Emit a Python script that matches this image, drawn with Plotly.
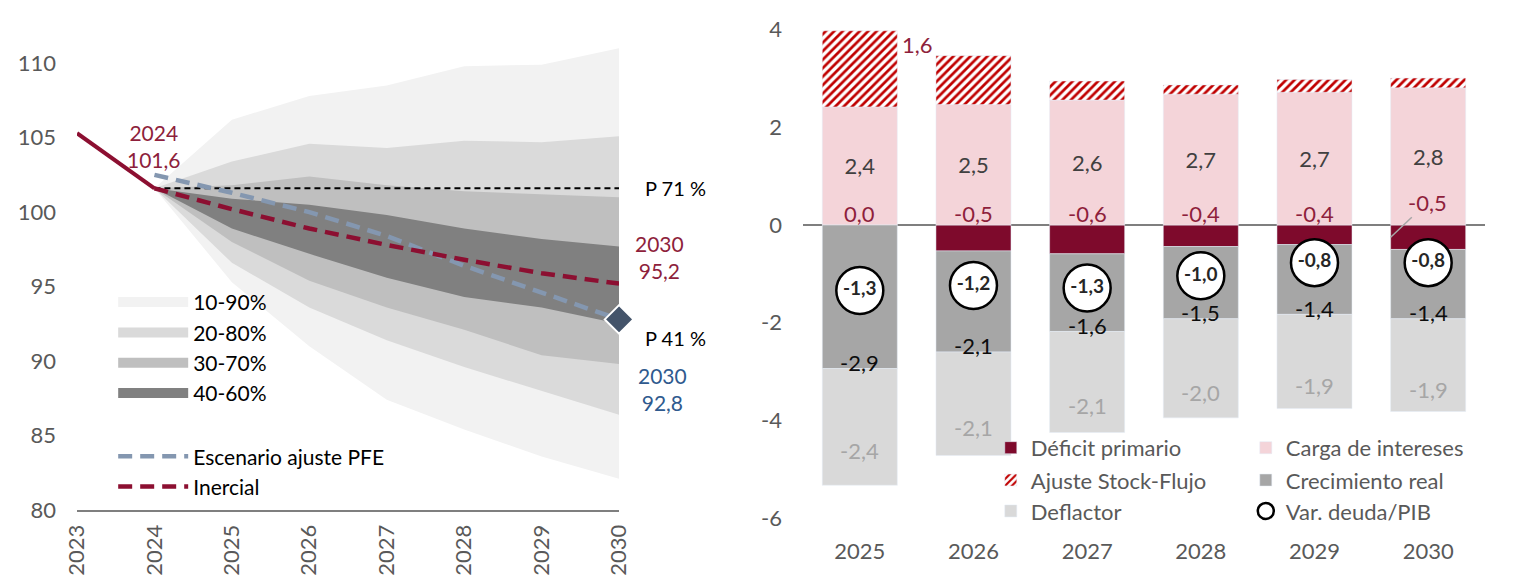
import plotly.graph_objects as go

# ---------------- Left panel data (deuda/PIB, fan chart) ----------------
years_hist = [2023, 2024]
debt_hist = [105.3, 101.6]
years_fan = [2024, 2025, 2026, 2027, 2028, 2029, 2030]
p10 = [101.6, 95.3, 91.0, 87.4, 85.4, 83.6, 82.1]
p20 = [101.6, 96.6, 93.6, 91.4, 89.6, 88.0, 86.4]
p30 = [101.6, 98.0, 95.4, 93.6, 92.1, 90.4, 89.8]
p40 = [101.6, 98.9, 97.2, 95.6, 94.3, 93.6, 92.5]
p60 = [101.6, 100.9, 100.5, 99.8, 98.9, 98.2, 97.7]
p70 = [101.6, 101.8, 102.4, 101.8, 101.4, 101.2, 101.0]
p80 = [101.6, 103.4, 104.6, 104.3, 104.8, 104.7, 105.1]
p90 = [101.6, 106.2, 107.8, 108.5, 109.8, 109.9, 111.0]
inercial = [101.6, 100.2, 98.9, 97.8, 96.8, 95.9, 95.2]
pfe = [102.5, 101.3, 100.0, 98.4, 96.4, 94.6, 92.8]
band_names = ["10-90%", "20-80%", "30-70%", "40-60%"]
prob_upper_label = "P 71 %"
prob_lower_label = "P 41 %"
left_xticks = [2023, 2024, 2025, 2026, 2027, 2028, 2029, 2030]
left_yticks = [80, 85, 90, 95, 100, 105, 110]

# ---------------- Right panel data (descomposición) ----------------
cats = ["2025", "2026", "2027", "2028", "2029", "2030"]
deficit = [0.0, -0.53, -0.59, -0.44, -0.40, -0.50]
carga = [2.42, 2.47, 2.56, 2.68, 2.72, 2.81]
stock_flujo = [1.56, 1.00, 0.39, 0.19, 0.26, 0.20]
crecimiento = [-2.94, -2.07, -1.59, -1.48, -1.43, -1.42]
deflactor = [-2.39, -2.12, -2.07, -2.03, -1.93, -1.90]
var_deuda = [-1.34, -1.24, -1.29, -1.04, -0.77, -0.77]
right_yticks = [-6, -4, -2, 0, 2, 4]

FONT = "Lato"
RED = "#8C0F31"
RED_TXT = "#8E1F3C"
BLUE_TXT = "#2F5A8E"
GREY_TXT = "#595959"


def fmt(v):
    return f"{v:.1f}".replace(".", ",")


fig = go.Figure()

# fan bands
band_lo = [p10, p20, p30, p40]
band_hi = [p90, p80, p70, p60]
band_cols = ["#F2F2F2", "#DADADA", "#BFBFBF", "#808080"]
for i, name in enumerate(band_names):
    fig.add_trace(go.Scatter(x=years_fan, y=band_lo[i], mode="lines", line=dict(width=0),
                             showlegend=False, hoverinfo="skip", xaxis="x", yaxis="y"))
    fig.add_trace(go.Scatter(x=years_fan, y=band_hi[i], mode="lines", line=dict(width=0),
                             fill="tonexty", fillcolor=band_cols[i], showlegend=False,
                             hoverinfo="skip", xaxis="x", yaxis="y"))
# legend swatches for bands
for i, name in enumerate(band_names):
    fig.add_trace(go.Scatter(x=[None], y=[None], mode="lines", name=name,
                             line=dict(color=band_cols[i], width=17),
                             legend="legend", legendgroup="bands", legendrank=i + 1,
                             xaxis="x", yaxis="y"))

# reference dotted line at 2024 level
fig.add_trace(go.Scatter(x=[years_fan[0], years_fan[-1]], y=[debt_hist[-1], debt_hist[-1]],
                         mode="lines", line=dict(color="black", width=2, dash="6px,4px"),
                         showlegend=False, hoverinfo="skip", xaxis="x", yaxis="y"))
# historical solid
fig.add_trace(go.Scatter(x=years_hist, y=debt_hist, mode="lines",
                         line=dict(color=RED, width=4), showlegend=False, xaxis="x", yaxis="y"))
# PFE
fig.add_trace(go.Scatter(x=years_fan, y=pfe, mode="lines",
                         line=dict(color="#8497B0", width=4.5, dash="14px,8px"),
                         name="Escenario ajuste PFE", legend="legend", legendgroup="lines",
                         legendrank=10, xaxis="x", yaxis="y"))
# Inercial
fig.add_trace(go.Scatter(x=years_fan, y=inercial, mode="lines",
                         line=dict(color=RED, width=4.5, dash="14px,8px"),
                         name="Inercial", legend="legend", legendgroup="lines",
                         legendrank=11, xaxis="x", yaxis="y"))
# diamond
fig.add_trace(go.Scatter(x=[years_fan[-1]], y=[pfe[-1]], mode="markers", cliponaxis=False,
                         marker=dict(symbol="diamond", size=22, color="#44546A",
                                     line=dict(color="white", width=2)),
                         showlegend=False, xaxis="x", yaxis="y"))

# ---------------- right panel bars ----------------
fig.add_trace(go.Bar(x=cats, y=deficit, name="Déficit primario", marker_color="#7E0A2C",
                     legend="legend2", xaxis="x2", yaxis="y2"))
fig.add_trace(go.Bar(x=cats, y=carga, name="Carga de intereses", marker_color="#F4D4D9",
                     text=[fmt(v) for v in carga], textposition="inside",
                     insidetextanchor="middle", textangle=0,
                     textfont=dict(size=22, color="#404040", family=FONT),
                     legend="legend2", xaxis="x2", yaxis="y2"))
fig.add_trace(go.Bar(x=cats, y=stock_flujo, name="Ajuste Stock-Flujo",
                     marker=dict(color="white",
                                 pattern=dict(shape="/", fgcolor="#C00000", bgcolor="white",
                                              size=6, solidity=0.45, fillmode="replace")),
                     legend="legend3", xaxis="x2", yaxis="y2"))
fig.add_trace(go.Bar(x=cats, y=crecimiento, name="Crecimiento real", marker_color="#A6A6A6",
                     legend="legend3", xaxis="x2", yaxis="y2"))
fig.add_trace(go.Bar(x=cats, y=deflactor, name="Deflactor", marker_color="#D9D9D9",
                     legend="legend4", xaxis="x2", yaxis="y2"))
fig.add_trace(go.Scatter(x=cats, y=var_deuda, mode="markers+text", name="Var. deuda/PIB",
                         marker=dict(size=47, color="white", line=dict(color="black", width=2.5)),
                         text=["<b>" + fmt(v) + "</b>" for v in var_deuda],
                         textposition="middle center",
                         textfont=dict(size=19, color="#262626", family=FONT),
                         legend="legend4", xaxis="x2", yaxis="y2"))

annotations = []
# left annotations
annotations.append(dict(x=years_hist[-1], y=debt_hist[-1], xref="x", yref="y",
                        text="2024<br>" + fmt(debt_hist[-1]), showarrow=False, yshift=42,
                        font=dict(size=21, color=RED_TXT, family=FONT)))
annotations.append(dict(x=years_fan[-1], y=debt_hist[-1], xref="x", yref="y",
                        text=prob_upper_label, showarrow=False, xanchor="left", xshift=24,
                        font=dict(size=20, color="black", family=FONT)))
annotations.append(dict(x=years_fan[-1], y=inercial[-1], xref="x", yref="y",
                        text="2030<br>" + fmt(inercial[-1]), showarrow=False, xanchor="left",
                        xshift=14, yshift=27, font=dict(size=21, color=RED_TXT, family=FONT)))
annotations.append(dict(x=years_fan[-1], y=pfe[-1], xref="x", yref="y",
                        text=prob_lower_label, showarrow=False, xanchor="left", xshift=24,
                        yshift=-19, font=dict(size=20, color="black", family=FONT)))
annotations.append(dict(x=years_fan[-1], y=pfe[-1], xref="x", yref="y",
                        text="2030<br>" + fmt(pfe[-1]), showarrow=False, xanchor="left",
                        xshift=17, yshift=-70, font=dict(size=21, color=BLUE_TXT, family=FONT)))

# right annotations (category index positions)
for i, c in enumerate(cats):
    if i < len(cats) - 1:
        annotations.append(dict(x=i, y=0, xref="x2", yref="y2", text=fmt(deficit[i]),
                                showarrow=False, yshift=12,
                                font=dict(size=22, color=RED_TXT, family=FONT)))
    else:
        annotations.append(dict(x=i - 0.33, y=deficit[i] / 2, xref="x2", yref="y2",
                                text=fmt(deficit[i]), showarrow=True, arrowhead=0,
                                arrowwidth=1.5, arrowcolor="#A6A6A6", ax=37, ay=-35,
                                font=dict(size=22, color=RED_TXT, family=FONT)))
    bottom_crec = deficit[i] + crecimiento[i]
    annotations.append(dict(x=i, y=bottom_crec, xref="x2", yref="y2", text=fmt(crecimiento[i]),
                            showarrow=False, yshift=6,
                            font=dict(size=22, color="#0D0D0D", family=FONT)))
    annotations.append(dict(x=i, y=bottom_crec + deflactor[i] / 2, xref="x2", yref="y2",
                            text=fmt(deflactor[i]), showarrow=False, yshift=-24,
                            font=dict(size=22, color="#A6A6A6", family=FONT)))
annotations.append(dict(x=0, y=carga[0] + stock_flujo[0], xref="x2", yref="y2",
                        text=fmt(stock_flujo[0]), showarrow=False, xanchor="left",
                        yanchor="top", xshift=40, yshift=2,
                        font=dict(size=22, color=RED_TXT, family=FONT)))

leg_common = dict(bgcolor="rgba(0,0,0,0)", borderwidth=0)
fig.update_layout(
    width=1514, height=577, autosize=False,
    margin=dict(l=77, r=29, t=20, b=59, autoexpand=False),
    paper_bgcolor="white", plot_bgcolor="white",
    font=dict(family=FONT, color=GREY_TXT),
    barmode="relative", bargap=0.34,
    annotations=annotations,
    xaxis=dict(domain=[0, 0.385], range=[2023, 2030], tickvals=left_xticks, tickangle=-90,
               tickfont=dict(size=22, color=GREY_TXT), showline=True, linecolor="#7F7F7F",
               linewidth=2, showgrid=False, zeroline=False, ticks="", anchor="y",
               ticklabelstandoff=4, automargin=False),
    yaxis=dict(domain=[0.016, 1], range=[80, 112.9], tickvals=left_yticks,
               tickfont=dict(size=22, color=GREY_TXT), showgrid=False, zeroline=False,
               showline=False, ticks="", anchor="x", ticklabelstandoff=20, automargin=False),
    xaxis2=dict(domain=[0.5156, 1], type="category", anchor="y2", range=[-0.5, 5.5],
                tickfont=dict(size=22, color=GREY_TXT), showline=False, showgrid=False,
                ticks="", ticklabelstandoff=18, automargin=False),
    yaxis2=dict(domain=[0, 1], range=[-6.001, 4.2], tickvals=right_yticks,
                ticktext=[str(v) for v in right_yticks], anchor="x2",
                tickfont=dict(size=22, color=GREY_TXT), showgrid=False, zeroline=True,
                zerolinecolor="#7F7F7F", zerolinewidth=2, showline=False, ticks="",
                ticklabelstandoff=20, automargin=False),
    legend=dict(x=0.0257, y=0.474, xanchor="left", yanchor="top", orientation="v",
                traceorder="grouped", tracegroupgap=33, itemwidth=70,
                font=dict(size=21, color="black", family=FONT), **leg_common),
    legend2=dict(x=0.649, y=0.183, xanchor="left", yanchor="top", orientation="h",
                 entrywidth=210, font=dict(size=22, color=GREY_TXT, family=FONT), **leg_common),
    legend3=dict(x=0.649, y=0.118, xanchor="left", yanchor="top", orientation="h",
                 entrywidth=210, font=dict(size=22, color=GREY_TXT, family=FONT), **leg_common),
    legend4=dict(x=0.649, y=0.056, xanchor="left", yanchor="top", orientation="h",
                 entrywidth=210, font=dict(size=22, color=GREY_TXT, family=FONT), **leg_common),
)

fig.write_html("out.html", config={"displayModeBar": False},
               post_script="document.body.style.margin='0px';")
